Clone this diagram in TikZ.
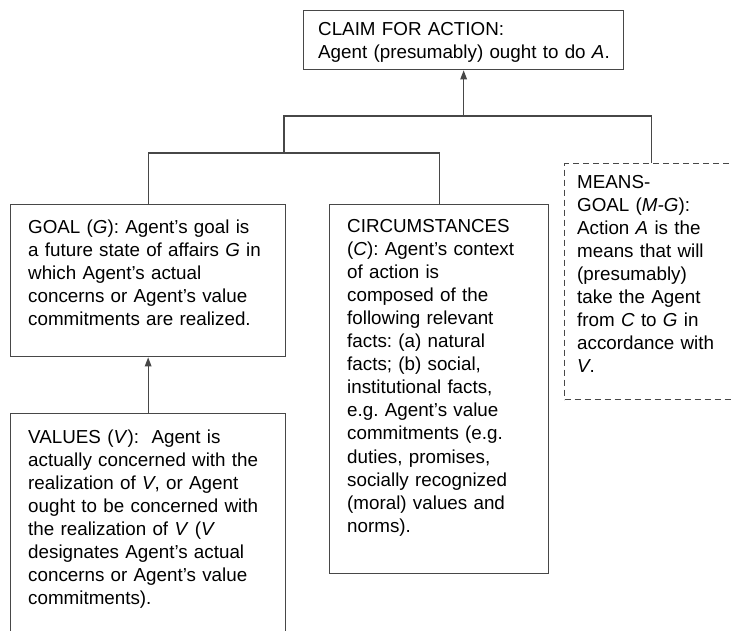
\documentclass[tikz,border=0pt]{standalone}
\usepackage{fontspec}
\setmainfont{Liberation Sans}
\usetikzlibrary{arrows.meta}
\frenchspacing
\begin{document}
\begin{tikzpicture}[x=1pt,y=-1pt,
  line/.style={draw=black!72, line width=1.3pt},
  box/.style={line, rectangle, inner sep=0pt, anchor=north west, fill=white},
  dbox/.style={box, dash pattern=on 6pt off 4pt},
  txt/.style={anchor=base west, inner sep=0pt, text width=300pt, align=left,
    font=\fontsize{18.8}{23.1}\selectfont\frenchspacing, text=black},
  arr/.style={line, -{Triangle[length=9pt,width=6.5pt]}}]
\useasboundingbox (0,0) rectangle (731,630);
% boxes
\node[box, minimum width=320pt, minimum height=59pt] (claim) at (303,10) {};
\node[box, minimum width=275pt, minimum height=152pt] (goal) at (10,204) {};
\node[box, minimum width=275pt, minimum height=240pt] (values) at (10,413) {};
\node[box, minimum width=219pt, minimum height=369pt] (circ) at (329,204) {};
\node[dbox, minimum width=174pt, minimum height=236pt] (means) at (564,163) {};
% texts
\node[txt] (claimtxt) at (318,35) {CLAIM FOR ACTION:\\Agent (presumably) ought to do \textit{A}.};
\node[txt] (goaltxt) at (28,233) {GOAL (\textit{G}): Agent’s goal is\\a future state of affairs \textit{G} in\\which Agent’s actual\\concerns or Agent’s value\\commitments are realized.};
\node[txt] (valuestxt) at (28,443) {VALUES (\textit{V}):\ \ Agent is\\actually concerned with the\\realization of \textit{V}, or Agent\\ought to be concerned with\\the realization of \textit{V} (\textit{V}\\designates Agent’s actual\\concerns or Agent’s value\\commitments).};
\node[txt] (circtxt) at (347,232) {CIRCUMSTANCES\\(\textit{C}): Agent’s context\\of action is\\composed of the\\following relevant\\facts: (a) natural\\facts; (b) social,\\institutional facts,\\e.g. Agent’s value\\commitments (e.g.\\duties, promises,\\socially recognized\\(moral) values and\\norms).};
\node[txt] (meanstxt) at (577,188) {MEANS-\\GOAL (\textit{M-G}):\\Action \textit{A} is the\\means that will\\(presumably)\\take the Agent\\from \textit{C} to \textit{G} in\\accordance with\\\textit{V}.};
% connectors
\coordinate (tl) at (284,116);
\coordinate (bl) at (284,153);
\coordinate (tr) at (means.north |- tl);
\coordinate (tm) at (claim.south |- tl);
\draw[line] (means.north) -- (tr) -- (tl) -- (bl);
\draw[line] (goal.north) |- (bl) -| (circ.north);
\draw[arr] (tm) -- (claim.south);
\draw[arr] (values.north) -- (goal.south);
\end{tikzpicture}
\end{document}
